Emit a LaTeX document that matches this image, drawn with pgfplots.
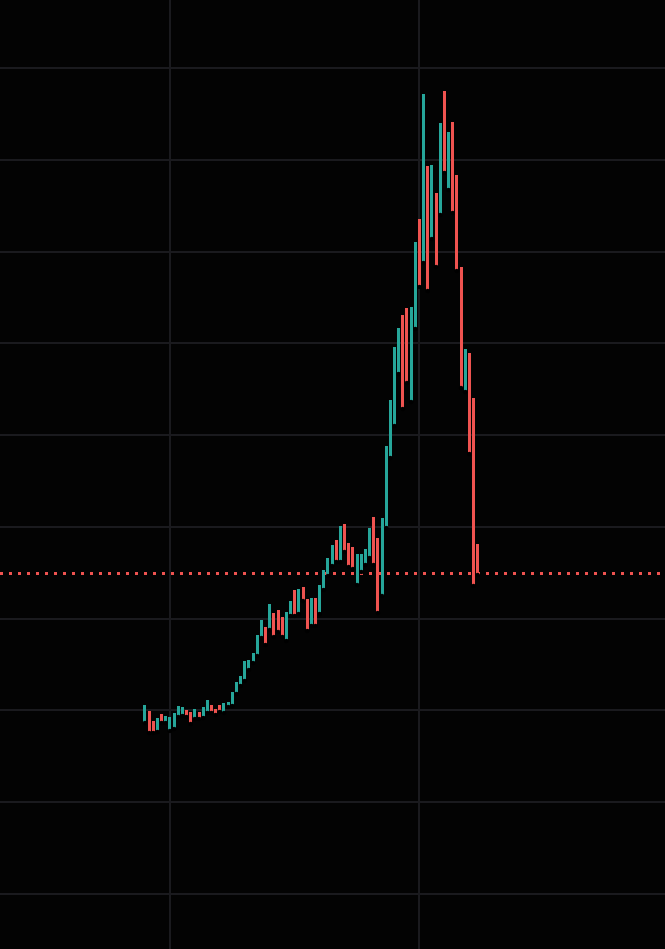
\documentclass[border=0pt]{standalone}
\usepackage{pgfplots}
\usepackage{pgfplotstable}
\pgfplotsset{compat=1.18}
\definecolor{bgc}{HTML}{030303}
\definecolor{gridc}{HTML}{1A1A1E}
\definecolor{upc}{HTML}{26A69A}
\definecolor{downc}{HTML}{EF5350}

\pgfplotstableread{
x lo hi
0 226 244
3 217 231
5 226 233
6 218 232
7 220 236
8 232 243
9 233 242
12 230 240
14 231 242
15 236 249
19 236 246
20 242 247
21 243 257
22 255 267
23 263 273
24 268 288
25 279 289
26 286 296
27 293 314
28 311 329
30 319 345
34 308 337
35 333 348
37 335 360
40 323 351
42 335 364
43 359 379
44 373 391
45 383 404
47 387 423
51 364 395
52 377 395
53 384 400
54 391 421
57 353 431
58 421 503
59 491 549
60 523 602
61 575 621
64 547 642
65 620 707
67 686 855
69 710 784
71 734 826
73 759 817
77 557 600
}\uptable

\pgfplotstableread{
x lo hi
1 216 238
2 216 228
4 226 235
10 232 239
11 225 237
13 230 237
16 236 244
17 234 240
18 237 244
29 304 322
31 312 336
32 317 339
33 312 332
36 333 359
38 348 362
39 318 350
41 323 351
46 387 409
48 397 425
49 382 406
50 380 402
55 384 432
56 336 411
62 540 634
63 566 641
66 662 730
68 658 783
70 682 756
72 776 858
74 736 827
75 678 774
76 561 682
78 495 596
79 363 551
80 374 405
}\downtable

\begin{document}
\begin{tikzpicture}
\begin{axis}[
  scale only axis,
  width=665pt, height=949pt,
  xmin=-34.87, xmax=125.06,
  ymin=0, ymax=949,
  axis background/.style={fill=bgc},
  axis line style={draw=none},
  tick style={draw=none},
  xtick={6,66},
  ytick={55,146.75,238.5,330.25,422,513.75,605.5,697.25,789,880.75},
  xticklabels={}, yticklabels={},
  grid=major,
  major grid style={draw=gridc, line width=2pt},
]
\addplot[downc, line width=2.5pt, dash pattern=on 3pt off 6pt, forget plot]
  coordinates {(-34.87,375.7) (125.06,375.7)};
\addplot[only marks, mark=none, forget plot,
  error bars/.cd, y dir=plus, y explicit, error mark=none,
  error bar style={line width=3pt, draw=upc, solid}]
  table[x=x, y=lo, y error expr={\thisrow{hi}-\thisrow{lo}}] {\uptable};
\addplot[only marks, mark=none, forget plot,
  error bars/.cd, y dir=plus, y explicit, error mark=none,
  error bar style={line width=3pt, draw=downc, solid}]
  table[x=x, y=lo, y error expr={\thisrow{hi}-\thisrow{lo}}] {\downtable};
\end{axis}
\pgfresetboundingbox
\path[use as bounding box] (current axis.south west) rectangle (current axis.north east);
\end{tikzpicture}
\end{document}
